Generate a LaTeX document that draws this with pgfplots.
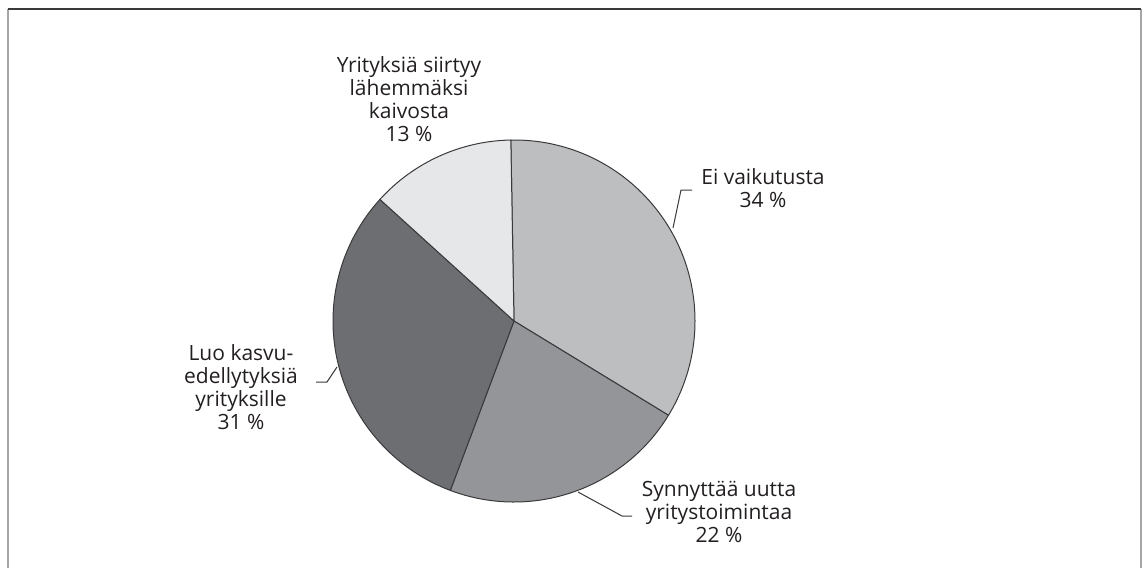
\documentclass[border=0pt]{standalone}
\usepackage{fontspec}
\setmainfont{Open Sans}
\usepackage{pgfplots}
\usepackage{pgfplotstable}
\pgfplotsset{compat=1.18}
\definecolor{slice0}{HTML}{BCBEC0}
\definecolor{slice1}{HTML}{939598}
\definecolor{slice2}{HTML}{6D6E71}
\definecolor{slice3}{HTML}{E6E7E8}
\definecolor{edge}{HTML}{3A3A3C}
\definecolor{txt}{HTML}{231F20}

% share of answers, clockwise from the top
\pgfplotstableread{
label value
Ei 34
Synnyttaa 22
Luo 31
Yrityksia 13
}\pietable

\begin{document}
\begin{tikzpicture}
\begin{axis}[
    width=571pt, height=284pt, scale only axis,
    xmin=0, xmax=1142, ymin=0, ymax=568,
    hide axis, clip=false,
]
\pgfplotsextra{
    \path (axis cs:0,0) (axis cs:1142,568);
    % frame (open at the bottom)
    \draw[line width=1pt, color=gray!70] (axis cs:8,0) -- (axis cs:8,559);
    \draw[line width=1pt, color=gray!70] (axis cs:1141,0) -- (axis cs:1141,559);
    \draw[line width=1pt, color=edge] (axis cs:8,559) -- (axis cs:1141,559);
    % pie
    \xdef\startang{91}
    \foreach \i in {0,...,3} {
        \pgfplotstablegetelem{\i}{value}\of\pietable
        \pgfmathsetmacro\endang{\startang - 3.6*\pgfplotsretval}
        \filldraw[fill=slice\i, draw=edge, line width=0.5pt]
            (axis cs:514,247) -- ++(\startang:90.5pt)
            arc[start angle=\startang, end angle=\endang, radius=90.5pt] -- cycle;
        \xdef\startang{\endang}
    }
    % leader lines
    \draw[edge, line width=0.5pt] (axis cs:692,378) -- (axis cs:681,378) -- (axis cs:673,340);
    \draw[edge, line width=0.5pt] (axis cs:316,186) -- (axis cs:327,186) -- (axis cs:337,201);
    \draw[edge, line width=0.5pt] (axis cs:578,76) -- (axis cs:622,52) -- (axis cs:632,52);
}
\begin{scope}[every node/.style={align=center, text=txt, font=\fontsize{10.5}{11.5}\selectfont}]
\node at (axis cs:409,469) {Yrityksiä siirtyy\\lähemmäksi\\kaivosta\\13 \%};
\node at (axis cs:763,380) {Ei vaikutusta\\34 \%};
\node at (axis cs:241,181) {Luo kasvu-\\edellytyksiä\\yrityksille\\31 \%};
\node at (axis cs:719,56) {Synnyttää uutta\\yritystoimintaa\\22 \%};
\end{scope}
\end{axis}
\end{tikzpicture}
\end{document}
